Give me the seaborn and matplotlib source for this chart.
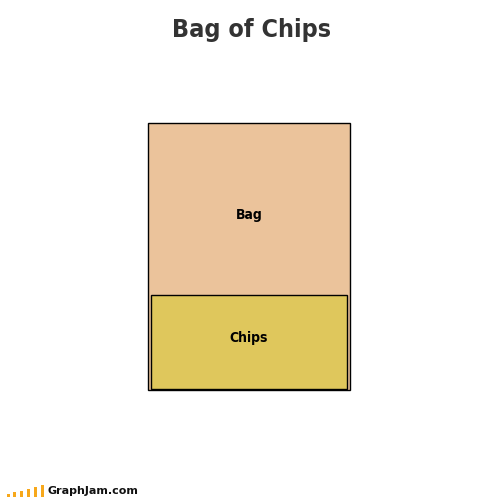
#!/usr/bin/env python3

import numpy as np
import pandas as pd
import seaborn as sns
import matplotlib.pyplot as plt

# Data
parts = ["Bag", "Chips"]
heights = [100, 35]          # bag fills the whole bar, chips the bottom part
part_colors = ["#EBC39B", "#DFC75C"]
logo_bars = [3, 5, 6, 8, 10, 12]   # little graph icon in the footer

sns.set_style("white")
plt.rcParams['font.family'] = ['DejaVu Sans']

fig = plt.figure(figsize=(5.04, 4.97), dpi=100)
W, H = 504, 497

# main axes placed over the bar region
ax = fig.add_axes([148 / W, (H - 390) / H, 202 / W, 267 / H])
df = pd.DataFrame({"group": ["x"], "value": [heights[0]]})
sns.barplot(data=df, x="group", y="value", color=part_colors[0], width=1.0,
            edgecolor="black", linewidth=1.0, saturation=1, ax=ax)
df2 = pd.DataFrame({"group": ["x"], "value": [heights[1]]})
sns.barplot(data=df2, x="group", y="value", color=part_colors[1], width=196 / 202,
            edgecolor="black", linewidth=1.0, saturation=1, ax=ax)
# lift the chips bar by a hair so its border sits inside the bag
ax.patches[-1].set_y(0.4)
for p in ax.patches:
    p.set_clip_on(False)

ax.set_xlim(-0.5, 0.5)
ax.set_ylim(0, 100)
ax.axis("off")

ax.text(0, 65.5, parts[0], ha="center", va="center", fontsize=10,
        fontweight="bold", fontstretch="condensed", color="black")
ax.text(0, 19.5, parts[1], ha="center", va="center", fontsize=10,
        fontweight="bold", fontstretch="condensed", color="black")

fig.text(0.5, 1 - 30 / H, "Bag of Chips", ha="center", va="center",
         fontsize=18, fontweight="bold", fontstretch="condensed", color="#333333")

# footer logo
lax = fig.add_axes([4.5 / W, 0, 42 / W, 12 / H])
ldf = pd.DataFrame({"i": range(len(logo_bars)), "v": logo_bars})
sns.barplot(data=ldf, x="i", y="v", color="#F7A81B", width=3 / 7, saturation=1,
            linewidth=0, ax=lax)
lax.set_xlim(-0.5, len(logo_bars) - 0.5)
lax.set_ylim(0, 12)
lax.axis("off")
fig.text(48 / W, 1 - 491 / H, "GraphJam.com", ha="left", va="center",
         fontsize=8, fontweight="bold", color="#111111")

fig.savefig("out.png", dpi=100)
